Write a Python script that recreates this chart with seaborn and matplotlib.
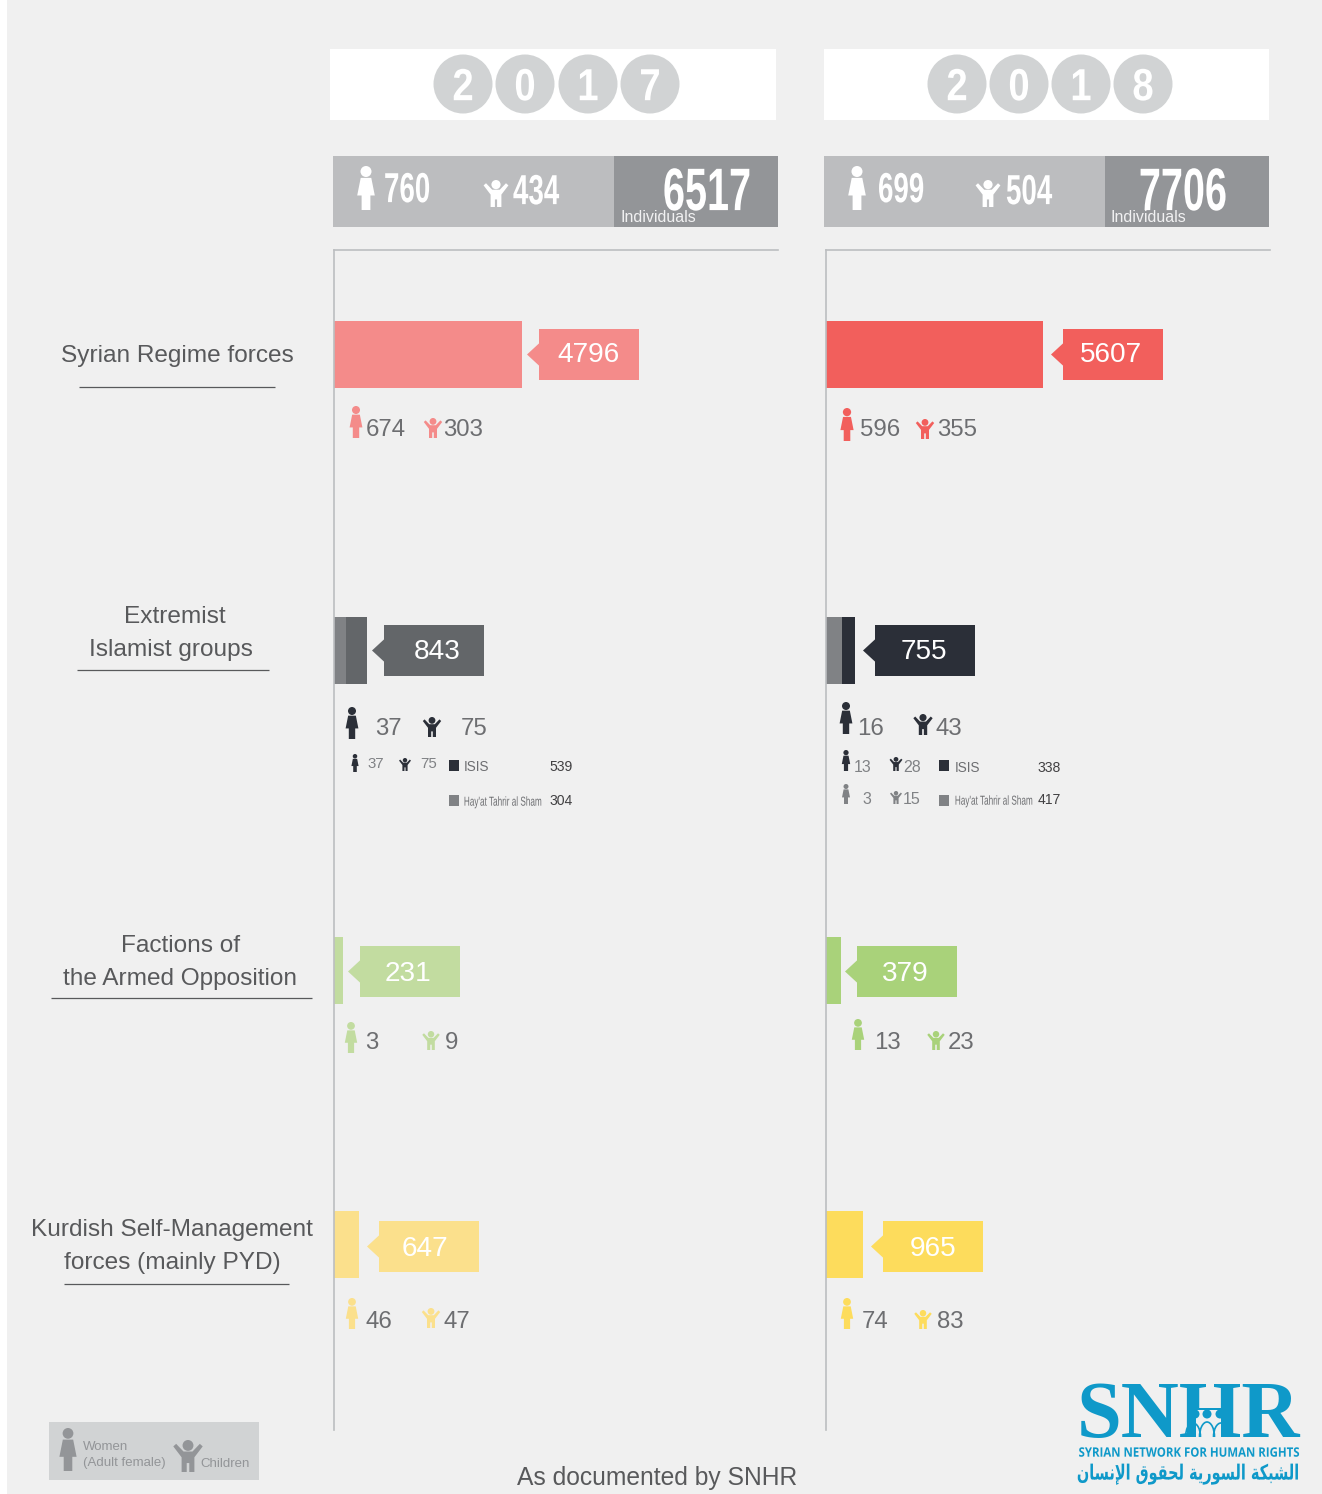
import matplotlib
matplotlib.use('Agg')
import matplotlib.pyplot as plt
import matplotlib.patches as mpatches
import matplotlib.patheffects as pe
from matplotlib.transforms import Affine2D
import pandas as pd
import seaborn as sns

# --- Data ---
GROUPS = ['Syrian Regime forces', 'Extremist Islamist groups',
          'Factions of the Armed Opposition', 'Kurdish Self-Management forces']
TOTALS_2017 = [4796, 843, 231, 647]
TOTALS_2018 = [5607, 755, 379, 965]
WOMEN_2017 = [674, 37, 3, 46]
WOMEN_2018 = [596, 16, 13, 74]
CHILDREN_2017 = [303, 75, 9, 47]
CHILDREN_2018 = [355, 43, 23, 83]
# only the extremist groups row has a split
HTS_2017 = [0, 304, 0, 0]
HTS_2018 = [0, 417, 0, 0]
ISIS_2017 = 539
ISIS_2018 = 338
ISIS_WOMEN = [37, 13]
ISIS_CHILDREN = [75, 28]
HTS_WOMEN_2018 = 3
HTS_CHILDREN_2018 = 15
YEAR_LABELS = ['2017', '2018']
SUM_WOMEN = [760, 699]
SUM_CHILDREN = [434, 504]
SUM_TOTAL = [6517, 7706]

# --- Layout, in pixels of the 1322x1494 picture ---
W, H = 1322, 1494
ROW_Y = [354.5, 650.5, 970.5, 1244.5]
BAR_H = 67
PX_PER_UNIT = [0.0392, 0.0387]
PLOT_TOP, PLOT_BOTTOM = 250, 1430
PLOT_LEFT = [334, 826]
PLOT_W = 444

COLORS_2017 = ['#f48b8a', '#636669', '#c2dca0', '#fbe08c']
COLORS_2018 = ['#f25f5c', '#2b2f38', '#a9d27a', '#fddc5c']
GRAY_SEG = '#808285'
TXT = '#58595b'
NUM = '#6d6e71'
BLUE = '#0f99c9'
BG = '#f0f0f0'

sns.set_theme(style='white')
plt.rcParams['font.family'] = ['Liberation Sans', 'DejaVu Sans']

fig = plt.figure(figsize=(W / 100, H / 100), dpi=100, facecolor='white')
fig.add_artist(mpatches.Rectangle((7 / W, 0), (W - 7) / W, 1, transform=fig.transFigure,
                                  color=BG, lw=0, zorder=-1))

# overlay in picture pixels for the infographic furniture
ov = fig.add_axes([0, 0, 1, 1], zorder=2)
ov.set_xlim(0, W)
ov.set_ylim(H, 0)
ov.axis('off')
ov.patch.set_alpha(0)


class Narrow(pe.AbstractPathEffect):
    # no condensed font is installed, so squeeze the glyphs about the anchor
    def __init__(self, x0, sx):
        super().__init__()
        self.squeeze = Affine2D().translate(-x0, 0).scale(sx, 1).translate(x0, 0)

    def draw_path(self, renderer, gc, tpath, affine, rgbFace=None):
        renderer.draw_path(gc, tpath, affine + self.squeeze, rgbFace)


def txt(x, y, s, px, color=NUM, ha='left', sx=None, **kw):
    # y is the middle of the capitals
    t = ov.text(x, y - 1 + 0.36 * px, s, fontsize=px * 0.72, color=color, ha=ha, va='baseline', **kw)
    if sx is not None:
        t.set_path_effects([Narrow(x, sx)])
    return t


def rect(x0, y0, x1, y1, color, **kw):
    ov.add_patch(mpatches.Rectangle((x0, y0), x1 - x0, y1 - y0, color=color, lw=0, **kw))


def woman(cx, top, bottom, color):
    h = bottom - top
    ov.add_patch(mpatches.Circle((cx, top + 0.125 * h), 0.125 * h, color=color, lw=0))
    pts = [(-0.12, 0.27), (0.12, 0.27), (0.2, 0.67), (0.1, 0.67), (0.1, 1.0),
           (-0.1, 1.0), (-0.1, 0.67), (-0.2, 0.67)]
    ov.add_patch(mpatches.Polygon([(cx + a * h, top + b * h) for a, b in pts], color=color, lw=0))


def child(cx, top, bottom, color):
    h = bottom - top
    ov.add_patch(mpatches.Circle((cx, top + 0.17 * h), 0.17 * h, color=color, lw=0))
    pts = [(-0.46, 0.2), (-0.37, 0.12), (-0.14, 0.36), (0.14, 0.36), (0.37, 0.12), (0.46, 0.2),
           (0.2, 0.54), (0.2, 1.0), (0.04, 1.0), (0.04, 0.72), (-0.04, 0.72), (-0.04, 1.0),
           (-0.2, 1.0), (-0.2, 0.54)]
    ov.add_patch(mpatches.Polygon([(cx + a * h, top + b * h) for a, b in pts], color=color, lw=0))


def tag(tip, y0, y1, value, color, text_x, text_y):
    box = tip + 12
    rect(box, y0, box + 100, y1, color)
    mid = (y0 + y1) / 2
    ov.add_patch(mpatches.Polygon([(tip, mid), (box + 1, mid - 12), (box + 1, mid + 12)], color=color, lw=0))
    txt(text_x, text_y, str(value), 28, 'white', ha='center')


# --- Bars, one axes per year ---
for i, (totals, hts, colors) in enumerate([(TOTALS_2017, HTS_2017, COLORS_2017),
                                           (TOTALS_2018, HTS_2018, COLORS_2018)]):
    left = PLOT_LEFT[i]
    ax = fig.add_axes([left / W, 1 - PLOT_BOTTOM / H, PLOT_W / W, (PLOT_BOTTOM - PLOT_TOP) / H], zorder=1)
    ax.patch.set_alpha(0)
    df = pd.DataFrame({'group': GROUPS, 'row': ROW_Y, 'total': totals, 'hts': hts})
    width = BAR_H / (ROW_Y[3] - ROW_Y[2])
    sns.barplot(data=df, x='total', y='row', hue='group', palette=dict(zip(GROUPS, colors)),
                orient='y', native_scale=True, dodge=False, width=width, saturation=1,
                legend=False, linewidth=0, ax=ax)
    # Hay'at Tahrir al Sham sits on top of the total, starting at zero
    sns.barplot(data=df, x='hts', y='row', color=GRAY_SEG, orient='y', native_scale=True,
                width=width, saturation=1, linewidth=0, ax=ax)
    ax.set_xlim(0, PLOT_W / PX_PER_UNIT[i])
    ax.set_ylim(PLOT_BOTTOM, PLOT_TOP)
    ax.set_xticks([])
    ax.set_yticks([])
    ax.set_xlabel('')
    ax.set_ylabel('')
    for side in ['right', 'bottom']:
        ax.spines[side].set_visible(False)
    for side in ['left', 'top']:
        ax.spines[side].set_visible(True)
        ax.spines[side].set_color('#bcbec0')
        ax.spines[side].set_linewidth(1.2)

# --- Year banners ---
BANNER_X = [(330, 776), (824, 1269)]
CIRCLE_X = [[463, 525, 588, 650], [957, 1019, 1081, 1143]]
SUM_X = [333, 824]
for i, year in enumerate(YEAR_LABELS):
    rect(BANNER_X[i][0], 49, BANNER_X[i][1], 120, 'white')
    for cx, digit in zip(CIRCLE_X[i], year):
        ov.add_patch(mpatches.Circle((cx, 84), 29.5, color='#d1d3d4', lw=0))
        txt(cx, 85, digit, 45, 'white', ha='center', sx=0.85, fontweight='bold')
    x0 = SUM_X[i]
    rect(x0, 156, x0 + 281, 227, '#bcbdbf')
    rect(x0 + 281, 156, x0 + 445, 227, '#939598')
    txt(x0 + 287, 217, 'Individuals', 16, '#f1f1f2')

WHITE_ICONS = [(366, 166, 210, 496, 180, 207), (857, 166, 210, 988, 180, 207)]
for i in range(2):
    wx, wt, wb, cx, ct, cb = WHITE_ICONS[i]
    woman(wx, wt, wb, 'white')
    child(cx, ct, cb, 'white')
SUM_NUM_X = [(384, 513, 751), (878, 1006, 1227)]
for i in range(2):
    x1, x2, x3 = SUM_NUM_X[i]
    txt(x1, 188, str(SUM_WOMEN[i]), 42, 'white', sx=0.66, fontweight='bold')
    txt(x2, 190, str(SUM_CHILDREN[i]), 42, 'white', sx=0.66, fontweight='bold')
    txt(x3, 189.5, str(SUM_TOTAL[i]), 60, 'white', ha='right', sx=0.66, fontweight='bold')

# --- Row labels on the left ---
LABEL_LINES = [[('Syrian Regime forces', 177, 354.5)],
               [('Extremist', 175, 615.5), ('Islamist groups', 171, 648.5)],
               [('Factions of', 181, 944.5), ('the Armed Opposition', 180, 977.5)],
               [('Kurdish Self-Management', 172, 1228.5), ('forces (mainly PYD)', 172, 1261.5)]]
UNDERLINES = [(79, 275, 387), (77, 269, 670), (51, 312, 998), (64, 289, 1284)]
for lines, (x0, x1, y) in zip(LABEL_LINES, UNDERLINES):
    for s, x, yc in lines:
        txt(x, yc, s, 24.4, TXT, ha='center')
    ov.plot([x0, x1], [y, y], color=TXT, lw=0.9, solid_capstyle='butt')

# --- Value tags ---
TAG_TIP_2017 = [527, 372, 348, 367]
TAG_TIP_2018 = [1051, 863, 845, 871]
TAG_TEXT_2017 = [589, 437, 408, 425]
TAG_TEXT_2018 = [1111, 924, 905, 933]
TAG_TEXT_Y = [353, 650, 971.5, 1246.5]
TAG_Y = [(329, 380), (625, 676), (946, 997), (1221, 1272)]
for r in range(4):
    tag(TAG_TIP_2017[r], TAG_Y[r][0], TAG_Y[r][1], TOTALS_2017[r], COLORS_2017[r], TAG_TEXT_2017[r], TAG_TEXT_Y[r])
    tag(TAG_TIP_2018[r], TAG_Y[r][0], TAG_Y[r][1], TOTALS_2018[r], COLORS_2018[r], TAG_TEXT_2018[r], TAG_TEXT_Y[r])

# --- Women and children under each bar ---
# woman x, top, bottom, text x; child x, top, bottom, text x; text y
PEOPLE_2017 = [(356, 406, 438, 366, 433, 418, 438, 443, 428),
               (352, 707, 739, 375, 432, 717, 737, 461, 727),
               (351, 1022, 1053, 365, 431, 1031, 1050, 445, 1041),
               (352, 1298, 1329, 366, 431, 1308, 1328, 444, 1320)]
PEOPLE_2018 = [(847, 408, 441, 860, 925, 419, 439, 937, 428),
               (846, 702, 734, 857, 923, 714, 735, 935, 727),
               (858, 1019, 1050, 874, 936, 1031, 1050, 948, 1041),
               (847, 1298, 1329, 862, 923, 1310, 1329, 937, 1320)]
for layout, wv, cv, colors in [(PEOPLE_2017, WOMEN_2017, CHILDREN_2017, COLORS_2017),
                               (PEOPLE_2018, WOMEN_2018, CHILDREN_2018, COLORS_2018)]:
    for r in range(4):
        wx, wt, wb, wtx, cx, ct, cb, ctx, ty = layout[r]
        col = '#2b2f38' if r == 1 else colors[r]
        woman(wx, wt, wb, col)
        child(cx, ct, cb, col)
        txt(wtx, ty, str(wv[r]), 24, NUM)
        txt(ctx, ty, str(cv[r]), 24, NUM)

# --- Extremist groups breakdown ---
DARK = '#2b2f38'
woman(355, 754, 772, DARK)
txt(367, 764, str(ISIS_WOMEN[0]), 15, '#808285')
child(405, 758, 771, DARK)
txt(420, 764, str(ISIS_CHILDREN[0]), 15, '#808285')
rect(449, 760, 459, 771, DARK)
txt(464, 767, 'ISIS', 13.5, '#6d6e71')
txt(549, 767, str(ISIS_2017), 14, '#414042')
rect(449, 795, 459, 806, GRAY_SEG)
txt(542, 802, "Hay'at Tahrir al Sham", 13, '#6d6e71', ha='right', sx=0.63)
txt(549, 801, str(HTS_2017[1]), 14, '#414042')

woman(846, 750, 771, DARK)
txt(854, 767, str(ISIS_WOMEN[1]), 16, '#808285')
child(896, 757, 771, DARK)
txt(903, 767, str(ISIS_CHILDREN[1]), 16, '#808285')
rect(939, 760, 949, 771, DARK)
txt(955, 768, 'ISIS', 13.5, '#6d6e71')
txt(1038, 768, str(ISIS_2018), 14, '#414042')
woman(846, 784, 804, GRAY_SEG)
txt(862, 799, str(HTS_WOMEN_2018), 16, '#808285')
child(896, 791, 804, GRAY_SEG)
txt(903, 799, str(HTS_CHILDREN_2018), 16, '#808285')
rect(939, 795, 949, 806, GRAY_SEG)
txt(1033, 801, "Hay'at Tahrir al Sham", 13, '#6d6e71', ha='right', sx=0.63)
txt(1038, 800, str(HTS_2018[1]), 14, '#414042')

# --- Legend box ---
rect(49, 1422, 259, 1480, '#d1d3d4')
woman(68, 1428, 1471, '#939598')
child(188, 1440, 1472, '#939598')
txt(83, 1446, 'Women', 13.2, '#939598')
txt(83, 1462, '(Adult female)', 13.2, '#939598')
txt(200, 1463, 'Children', 13.2, '#939598')

# --- Footer and logo ---
txt(657, 1477, 'As documented by SNHR', 24.6, TXT, ha='center')
ov.text(1188, 1437, 'SNHR', fontsize=58, color=BLUE, ha='center', va='baseline',
        family='Liberation Serif', fontweight='bold', zorder=3)
# people inside the H of the logo
rect(1196, 1410, 1221, 1438, BG, zorder=4)
for cx in [1195, 1207, 1220]:
    ov.add_patch(mpatches.Circle((cx, 1414), 4.5, color=BLUE, lw=0, zorder=5))
ov.add_patch(mpatches.Arc((1207, 1437), 15, 30, theta1=180, theta2=360, color=BLUE, lw=1.2, zorder=5))
ov.add_patch(mpatches.Arc((1193, 1437), 15, 28, theta1=180, theta2=360, color=BLUE, lw=1.2, zorder=5))
ov.add_patch(mpatches.Arc((1221, 1437), 15, 28, theta1=180, theta2=360, color=BLUE, lw=1.2, zorder=5))
txt(1299, 1453, 'SYRIAN NETWORK FOR HUMAN RIGHTS', 13, BLUE, ha='right', sx=0.88,
    family='Open Sans', fontweight='bold')
ARABIC = ('\uFE8D\uFEDF\uFEB8\uFE92\uFEDC\uFE94 '
          '\uFE8D\uFEDF\uFEB4\uFEEE\uFEAD\uFEF3\uFE94 '
          '\uFEDF\uFEA4\uFED8\uFEEE\uFED5 '
          '\uFE8D\uFEF9\uFEE7\uFEB4\uFE8E\uFEE5')
# matplotlib lays text out left to right, so the shaped forms go in visual order
txt(1298, 1473, ARABIC[::-1], 21, BLUE, ha='right', sx=0.69, family='DejaVu Sans', fontweight='bold')

fig.savefig('out.png', dpi=100, facecolor=fig.get_facecolor())
